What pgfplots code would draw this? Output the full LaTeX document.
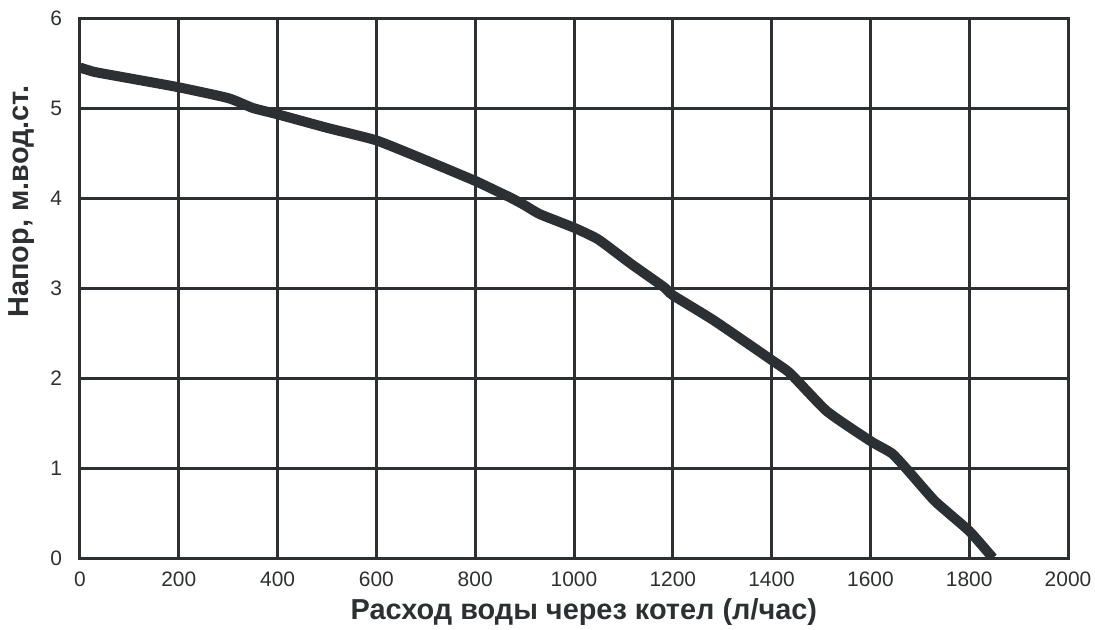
\documentclass[border=0pt]{standalone}
\usepackage{fontspec}
\setmainfont{Liberation Sans}
\usepackage{pgfplots}
\pgfplotsset{compat=1.18}
\definecolor{ink}{HTML}{2D3033}
\begin{document}
\begin{tikzpicture}
\path[use as bounding box] (0,0) rectangle (547.5bp,315bp);
\begin{axis}[
  at={(40bp,36bp)}, anchor=south west,
  scale only axis, width=494bp, height=270bp,
  xmin=0, xmax=2000, ymin=0, ymax=6,
  xtick={0,200,...,2000}, ytick={0,1,...,6},
  grid=major,
  major grid style={ink, line width=1.5bp},
  axis line style={ink, line width=1.5bp},
  tick style={draw=none},
  ticklabel style={font=\fontsize{10.5}{12}\selectfont, text=ink},
  xticklabel style={yshift=-3.5bp},
  yticklabel style={xshift=-5.5bp},
  /pgf/number format/assume math mode=true,
  /pgf/number format/1000 sep={},
  xlabel={Расход воды через котел (л/час)},
  ylabel={Напор, м.вод.ст.},
  label style={font=\bfseries\fontsize{14.5}{16}\selectfont, text=ink},
  xlabel style={at={(axis description cs:0.51,0)}, anchor=center, yshift=-27bp},
  ylabel style={at={(axis description cs:-0.0587,0.66)}, anchor=center, rotate=0},
]
\addplot[ink, line width=5bp, line join=round, line cap=butt, smooth, tension=0.3] coordinates {
(0,5.45) (30,5.40) (100,5.33) (200,5.23) (300,5.11) (350,5.00) (400,4.93)
(500,4.78) (600,4.64) (700,4.42) (800,4.19) (850,4.06) (873,4.00) (900,3.92)
(931,3.82) (1000,3.67) (1049,3.54) (1115,3.27) (1182,3.01) (1200,2.92)
(1283,2.64) (1400,2.20) (1438,2.05) (1512,1.63) (1600,1.30) (1644,1.16)
(1678,0.96) (1731,0.63) (1800,0.30) (1848,0.00)
};
\end{axis}
\end{tikzpicture}
\end{document}
